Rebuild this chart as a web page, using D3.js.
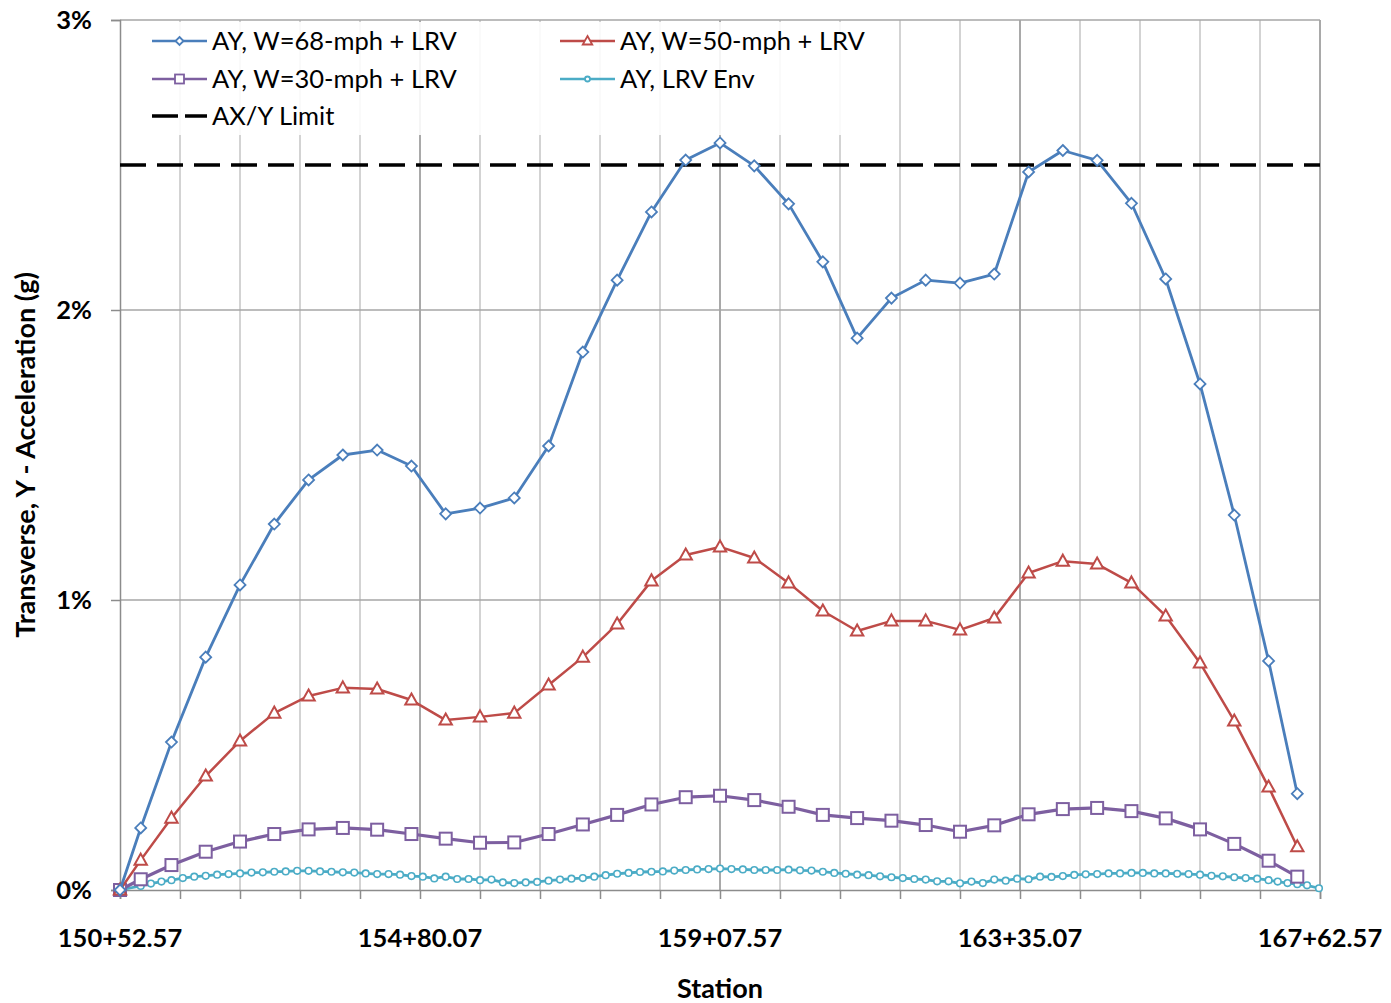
<!DOCTYPE html>
<html>
<head>
<meta charset="utf-8">
<script src="https://cdn.jsdelivr.net/npm/d3@7/dist/d3.min.js"></script>
<style>
  html, body { margin: 0; padding: 0; background: #fff; }
  svg { display: block; font-family: Lato, "Open Sans", "Liberation Sans", sans-serif; }
</style>
</head>
<body>
<svg id="chart" width="1391" height="1003"></svg>
<script>
// Station positions (ft) for the three wind-load runs
const stations = [15052.6, 15082.1, 15125.9, 15174.7, 15223.6, 15272.4, 15321.3, 15370.1, 15419.0,
  15467.9, 15516.7, 15565.6, 15614.4, 15663.3, 15712.1, 15761.0, 15809.9, 15858.7, 15907.6,
  15956.4, 16005.3, 16054.1, 16103.0, 16151.9, 16200.7, 16249.6, 16298.4, 16347.3, 16396.1,
  16445.0, 16493.9, 16542.7, 16591.6, 16640.4, 16689.3, 16730.2];

// Transverse acceleration, % g
const ay68 = [0, 0.214, 0.51, 0.803, 1.052, 1.262, 1.414, 1.5, 1.517, 1.462, 1.297, 1.317, 1.352,
  1.531, 1.855, 2.103, 2.338, 2.517, 2.576, 2.497, 2.366, 2.166, 1.903, 2.041, 2.103, 2.093,
  2.124, 2.476, 2.55, 2.516, 2.368, 2.107, 1.745, 1.293, 0.79, 0.332];
const ay50 = [0, 0.103, 0.248, 0.393, 0.514, 0.61, 0.669, 0.697, 0.693, 0.655, 0.586, 0.597, 0.61,
  0.707, 0.803, 0.917, 1.066, 1.155, 1.183, 1.145, 1.059, 0.962, 0.893, 0.928, 0.928, 0.897,
  0.938, 1.093, 1.134, 1.124, 1.059, 0.945, 0.783, 0.583, 0.355, 0.149];
const ay30 = [0, 0.037, 0.086, 0.132, 0.167, 0.193, 0.209, 0.214, 0.208, 0.193, 0.177, 0.163, 0.164,
  0.193, 0.226, 0.259, 0.295, 0.32, 0.325, 0.31, 0.287, 0.259, 0.248, 0.239, 0.224, 0.201,
  0.223, 0.261, 0.279, 0.283, 0.272, 0.247, 0.209, 0.159, 0.101, 0.046];

// LRV envelope is sampled on a finer station grid
const envStations = [15052.6, 15082.1, 15096.6, 15111.6,
  15125.9, 15142.1, 15158.4, 15174.7, 15191.0, 15207.3, 15223.6, 15239.9, 15256.1, 15272.4,
  15288.7, 15305.0, 15321.3, 15337.6, 15353.9, 15370.1, 15386.4, 15402.7, 15419.0, 15435.3,
  15451.6, 15467.9, 15484.1, 15500.4, 15516.7, 15533.0, 15549.3, 15565.6, 15581.9, 15598.1,
  15614.4, 15630.7, 15647.0, 15663.3, 15679.6, 15695.9, 15712.1, 15728.4, 15744.7, 15761.0,
  15777.3, 15793.6, 15809.9, 15826.1, 15842.4, 15858.7, 15875.0, 15891.3, 15907.6, 15923.9,
  15940.1, 15956.4, 15972.7, 15989.0, 16005.3, 16021.6, 16037.9, 16054.1, 16070.4, 16086.7,
  16103.0, 16119.3, 16135.6, 16151.9, 16168.1, 16184.4, 16200.7, 16217.0, 16233.3, 16249.6,
  16265.9, 16282.1, 16298.4, 16314.7, 16331.0, 16347.3, 16363.6, 16379.9, 16396.1, 16412.4,
  16428.7, 16445.0, 16461.3, 16477.6, 16493.9, 16510.1, 16526.4, 16542.7, 16559.0, 16575.3,
  16591.6, 16607.9, 16624.1, 16640.4, 16656.7, 16673.0, 16689.3,
  16702.3, 16716.3, 16730.2, 16744.1, 16761.1];
const ayEnv = [0, 0.014, 0.022, 0.029,
  0.034, 0.041, 0.046, 0.049, 0.053, 0.055, 0.057, 0.06, 0.061, 0.063,
  0.064, 0.066, 0.066, 0.064, 0.063, 0.061, 0.06, 0.057, 0.055, 0.055,
  0.053, 0.048, 0.046, 0.04, 0.046, 0.038, 0.038, 0.034, 0.036, 0.026,
  0.024, 0.026, 0.028, 0.032, 0.036, 0.039, 0.041, 0.046, 0.051, 0.056,
  0.059, 0.062, 0.063, 0.064, 0.067, 0.069, 0.071, 0.072, 0.074, 0.072,
  0.071, 0.069, 0.069, 0.069, 0.07, 0.068, 0.067, 0.063, 0.059, 0.056,
  0.053, 0.051, 0.047, 0.044, 0.041, 0.038, 0.036, 0.03, 0.03, 0.023,
  0.029, 0.024, 0.036, 0.032, 0.039, 0.037, 0.046, 0.045, 0.048, 0.052,
  0.054, 0.055, 0.057, 0.057, 0.059, 0.059, 0.057, 0.057, 0.056, 0.055,
  0.053, 0.049, 0.047, 0.044, 0.041, 0.039, 0.034,
  0.029, 0.024, 0.02, 0.016, 0.006];

const limitValue = 2.5;

// Axis labelling
const xLabelStations = [15052.57, 15480.07, 15907.57, 16335.07, 16762.57];
const xTickLabels = ["150+52.57", "154+80.07", "159+07.57", "163+35.07", "167+62.57"];
const yTicks = [0, 1, 2, 3];
const yTickLabels = ["0%", "1%", "2%", "3%"];

const seriesNames = ["AY, W=68-mph + LRV", "AY, W=50-mph + LRV", "AY, W=30-mph + LRV", "AY, LRV Env", "AX/Y Limit"];

const svg = d3.select("#chart");
const plotLeft = 120, plotRight = 1320, plotTop = 20, plotBottom = 890;

const x = d3.scaleLinear().domain([xLabelStations[0], xLabelStations[4]]).range([plotLeft, plotRight]);
const y = d3.scaleLinear().domain([0, 3]).range([plotBottom, plotTop]);

// minor station grid: five divisions between labelled stations
const minorStep = (xLabelStations[1] - xLabelStations[0]) / 5;
const minorStations = d3.range(0, 21).map(i => xLabelStations[0] + i * minorStep);

// vertical grid
svg.append("g").selectAll("line").data(minorStations.slice(1)).join("line")
  .attr("x1", d => x(d)).attr("x2", d => x(d))
  .attr("y1", plotTop).attr("y2", plotBottom)
  .attr("stroke", (d, i) => ((i + 1) % 5 === 0) ? "#8c8c8c" : "#c4c4c4")
  .attr("stroke-width", 1.5);

// horizontal grid
svg.append("g").selectAll("line").data(yTicks.slice(1)).join("line")
  .attr("x1", plotLeft).attr("x2", plotRight)
  .attr("y1", d => y(d)).attr("y2", d => y(d))
  .attr("stroke", "#a6a6a6").attr("stroke-width", 1.5);

// axes
const xAxis = d3.axisBottom(x).tickValues(minorStations).tickSize(9).tickFormat("");
const gx = svg.append("g").attr("transform", `translate(0,${plotBottom})`).call(xAxis);
gx.select(".domain").attr("stroke", "#8c8c8c").attr("stroke-width", 1.5);
gx.selectAll(".tick line").attr("stroke", "#8c8c8c").attr("stroke-width", 1.5);

svg.append("g").selectAll("text").data(xLabelStations).join("text")
  .attr("x", d => x(d)).attr("y", 947)
  .attr("text-anchor", "middle")
  .attr("font-size", 25.5).attr("font-weight", "bold").attr("fill", "#000")
  .text((d, i) => xTickLabels[i]);

const yAxis = d3.axisLeft(y).tickValues(yTicks).tickSize(9).tickFormat("");
const gy = svg.append("g").attr("transform", `translate(${plotLeft},0)`).call(yAxis);
gy.select(".domain").attr("stroke", "#8c8c8c").attr("stroke-width", 1.5);
gy.selectAll(".tick line").attr("stroke", "#8c8c8c").attr("stroke-width", 1.5);

svg.append("g").selectAll("text").data(yTicks).join("text")
  .attr("x", 92).attr("y", d => y(d) + 9)
  .attr("text-anchor", "end")
  .attr("font-size", 25.5).attr("font-weight", "bold").attr("fill", "#000")
  .text((d, i) => yTickLabels[i]);

// axis titles
svg.append("text").attr("x", 720).attr("y", 998).attr("text-anchor", "middle")
  .attr("font-size", 27).attr("font-weight", "bold").text("Station");
svg.append("text").attr("transform", "translate(35,455) rotate(-90)").attr("text-anchor", "middle")
  .attr("font-size", 27).attr("font-weight", "bold").text("Transverse, Y - Acceleration (g)");

// legend backdrop
svg.append("rect").attr("x", 124).attr("y", 22).attr("width", 760).attr("height", 113)
  .attr("fill", "#fff").attr("opacity", 0.88);

// limit line
svg.append("line").attr("x1", plotLeft).attr("x2", plotRight)
  .attr("y1", y(limitValue)).attr("y2", y(limitValue))
  .attr("stroke", "#000").attr("stroke-width", 3.5).attr("stroke-dasharray", "26,11");

// marker shapes
const diamond = (g, s) => g.append("path").attr("d", `M0,${-s}L${s},0L0,${s}L${-s},0Z`);
const triangle = (g, s) => g.append("path").attr("d", `M0,${-s}L${s * 0.95},${s * 0.7}L${-s * 0.95},${s * 0.7}Z`);
const square = (g, s) => g.append("rect").attr("x", -s).attr("y", -s).attr("width", 2 * s).attr("height", 2 * s);
const circle = (g, s) => g.append("circle").attr("r", s);

const series = [
  { xs: envStations, vals: ayEnv, color: "#4bacc6", width: 2.8, shape: circle, size: 3.3, mw: 1.6 },
  { xs: stations, vals: ay30, color: "#7d5fa0", width: 3.2, shape: square, size: 6, mw: 2 },
  { xs: stations, vals: ay50, color: "#be4b48", width: 2.5, shape: triangle, size: 6.5, mw: 2 },
  { xs: stations, vals: ay68, color: "#4a7ebb", width: 2.8, shape: diamond, size: 5.5, mw: 1.8 }
];

const line = d3.line().x(d => x(d[0])).y(d => y(d[1]));

series.forEach(s => {
  const pts = s.xs.map((st, i) => [st, s.vals[i]]);
  svg.append("path").datum(pts).attr("d", line)
    .attr("fill", "none").attr("stroke", s.color).attr("stroke-width", s.width)
    .attr("stroke-linejoin", "round");
  const g = svg.append("g");
  pts.forEach(p => {
    const m = g.append("g").attr("transform", `translate(${x(p[0])},${y(p[1])})`);
    s.shape(m, s.size).attr("fill", "#fff").attr("stroke", s.color).attr("stroke-width", s.mw);
  });
});

// legend
const legendItems = [
  { name: seriesNames[0], color: "#4a7ebb", shape: diamond, size: 4, lx: 152, ly: 41 },
  { name: seriesNames[1], color: "#be4b48", shape: triangle, size: 5, lx: 560, ly: 41 },
  { name: seriesNames[2], color: "#7d5fa0", shape: square, size: 4.5, lx: 152, ly: 79 },
  { name: seriesNames[3], color: "#4bacc6", shape: circle, size: 2.5, lx: 560, ly: 79 }
];
legendItems.forEach(it => {
  svg.append("line").attr("x1", it.lx).attr("x2", it.lx + 55).attr("y1", it.ly).attr("y2", it.ly)
    .attr("stroke", it.color).attr("stroke-width", 2.5);
  const m = svg.append("g").attr("transform", `translate(${it.lx + 27.5},${it.ly})`);
  it.shape(m, it.size).attr("fill", "#fff").attr("stroke", it.color).attr("stroke-width", 1.8);
  svg.append("text").attr("x", it.lx + 60).attr("y", it.ly + 9)
    .attr("font-size", 25.5).attr("fill", "#000").text(it.name);
});
svg.append("line").attr("x1", 152).attr("x2", 207).attr("y1", 116).attr("y2", 116)
  .attr("stroke", "#000").attr("stroke-width", 3.5).attr("stroke-dasharray", "26,7");
svg.append("text").attr("x", 212).attr("y", 125).attr("font-size", 25.5).attr("fill", "#000").text(seriesNames[4]);
</script>
</body>
</html>
